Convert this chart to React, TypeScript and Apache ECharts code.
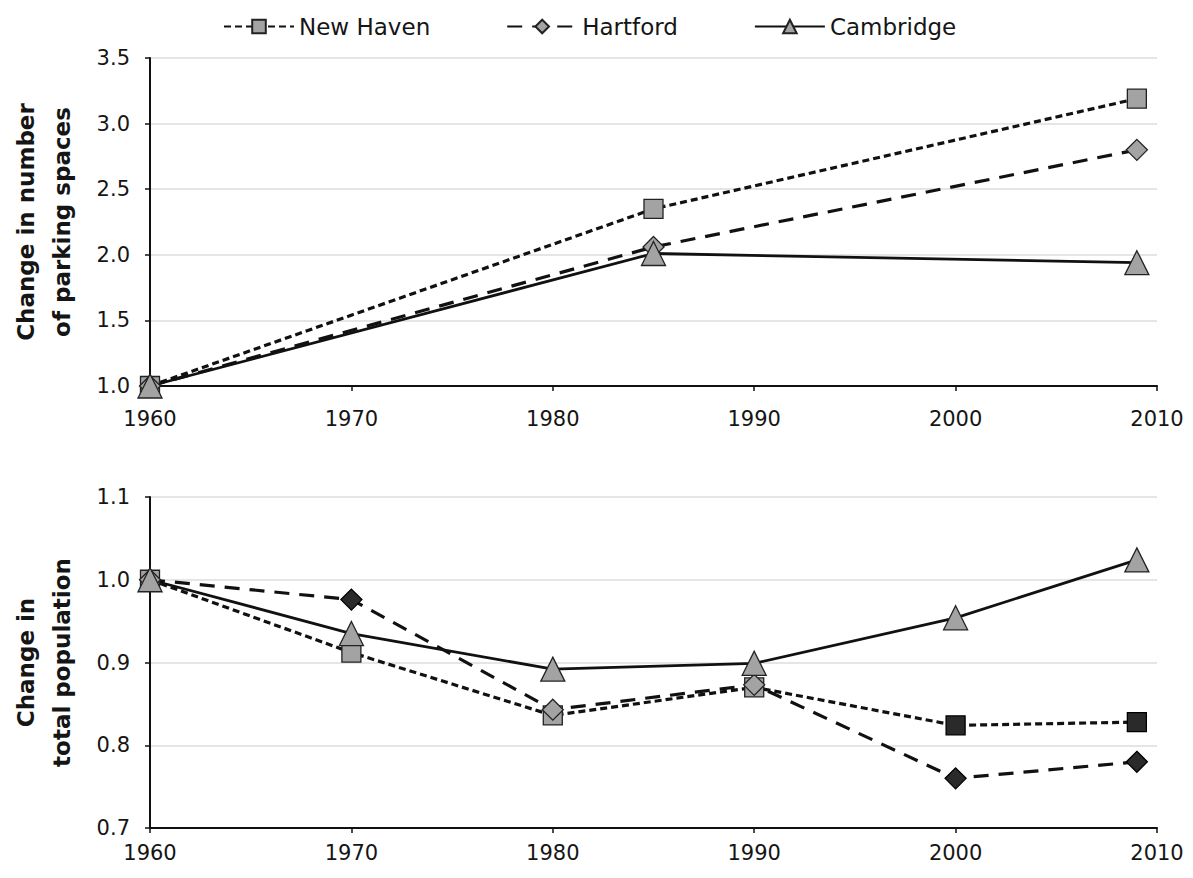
import React, { useEffect, useRef } from "react";
import * as echarts from "echarts";

const seriesNames = ["New Haven", "Hartford", "Cambridge"];
const xTickYears = [1960, 1970, 1980, 1990, 2000, 2010];

// Top panel: change in number of parking spaces
const parkingYears = [1960, 1985, 2009];
const parkingNewHaven = [1.0, 2.35, 3.19];
const parkingHartford = [1.0, 2.06, 2.8];
const parkingCambridge = [1.0, 2.01, 1.94];

// Bottom panel: change in total population
const popYears = [1960, 1970, 1980, 1990, 2000, 2009];
const popNewHaven = [1.0, 0.912, 0.836, 0.87, 0.824, 0.828];
const popHartford = [1.0, 0.976, 0.843, 0.873, 0.76, 0.78];
const popCambridge = [1.0, 0.935, 0.892, 0.899, 0.954, 1.024];

const FONT = "DejaVu Sans, Liberation Sans, Arial, sans-serif";

export default function App() {
  const ref = useRef<HTMLDivElement>(null);
  useEffect(() => {
    if (!ref.current) return;
    const chart = echarts.init(ref.current, undefined, { renderer: "svg" });

    const styles: Record<string, any> = {
      "New Haven": { symbol: "rect", symbolSize: 19, lineType: [7, 4], width: 3.2 },
      Hartford: { symbol: "diamond", symbolSize: 21, lineType: [15, 10], width: 3.2 },
      Cambridge: { symbol: "triangle", symbolSize: 24, lineType: "solid", width: 2.8 },
    };
    // points that look dark in the scanned original
    const darkPop: Record<string, number[]> = {
      "New Haven": [2000, 2009],
      Hartford: [1970, 2000, 2009],
      Cambridge: [],
    };

    const mk = (name: string, years: number[], vals: number[], idx: number, dark: number[]) => ({
      name,
      type: "line",
      xAxisIndex: idx,
      yAxisIndex: idx,
      symbol: styles[name].symbol,
      symbolSize: styles[name].symbolSize,
      lineStyle: { color: "#111", width: styles[name].width, type: styles[name].lineType },
      itemStyle: { color: "#a3a3a3", borderColor: "#222", borderWidth: 1.3 },
      data: years.map((y, i) =>
        dark.includes(y)
          ? { value: [y, vals[i]], itemStyle: { color: "#2a2a2a", borderColor: "#000" } }
          : [y, vals[i]]
      ),
    });

    const xAxis = (gridIndex: number, margin: number) => ({
      type: "value",
      gridIndex,
      min: 1960,
      max: 2010,
      interval: 10,
      axisLine: { show: true, lineStyle: { color: "#111", width: 2 } },
      axisTick: { show: true, length: 5, lineStyle: { color: "#111", width: 1.5 } },
      axisLabel: {
        color: "#151515",
        fontSize: 21,
        fontFamily: FONT,
        margin,
        formatter: (v: number) => (xTickYears.includes(v) ? String(v) : ""),
      },
      splitLine: { show: false },
    });

    const yAxis = (gridIndex: number, min: number, max: number, interval: number, name: string) => ({
      type: "value",
      gridIndex,
      min,
      max,
      interval,
      name,
      nameLocation: "middle",
      nameGap: 70,
      nameTextStyle: { fontSize: 23, fontWeight: "bold", color: "#151515", fontFamily: FONT, lineHeight: 36 },
      axisLine: { show: true, lineStyle: { color: "#111", width: 2 } },
      axisTick: { show: true, length: 5, lineStyle: { color: "#111", width: 1.5 } },
      axisLabel: { color: "#151515", fontSize: 21, fontFamily: FONT, margin: 20, formatter: (v: number) => v.toFixed(1) },
      splitLine: { show: true, lineStyle: { color: "#dcdcdc", width: 1.5 } },
    });

    chart.setOption({
      animation: false,
      backgroundColor: "#ffffff",
      textStyle: { fontFamily: FONT },
      legend: {
        top: 10,
        left: 218,
        itemWidth: 70,
        itemHeight: 17,
        itemGap: 76,
        textStyle: { fontSize: 23, color: "#151515", fontFamily: FONT },
        data: seriesNames,
      },
      grid: [
        { left: 148, top: 58, width: 1009, height: 328 },
        { left: 150, top: 497, width: 1007, height: 331 },
      ],
      xAxis: [xAxis(0, 22), xAxis(1, 14)],
      yAxis: [
        yAxis(0, 1.0, 3.5, 0.5, "Change in number\nof parking spaces"),
        yAxis(1, 0.7, 1.1, 0.1, "Change in\ntotal population"),
      ],
      series: [
        mk("New Haven", parkingYears, parkingNewHaven, 0, []),
        mk("Hartford", parkingYears, parkingHartford, 0, []),
        mk("Cambridge", parkingYears, parkingCambridge, 0, []),
        mk("New Haven", popYears, popNewHaven, 1, darkPop["New Haven"]),
        mk("Hartford", popYears, popHartford, 1, darkPop["Hartford"]),
        mk("Cambridge", popYears, popCambridge, 1, darkPop["Cambridge"]),
      ],
    });
    return () => chart.dispose();
  }, []);
  return (
    <div
      ref={ref}
      style={{ position: "fixed", left: 0, top: 0, width: 1193, height: 878, background: "#fff" }}
    />
  );
}
